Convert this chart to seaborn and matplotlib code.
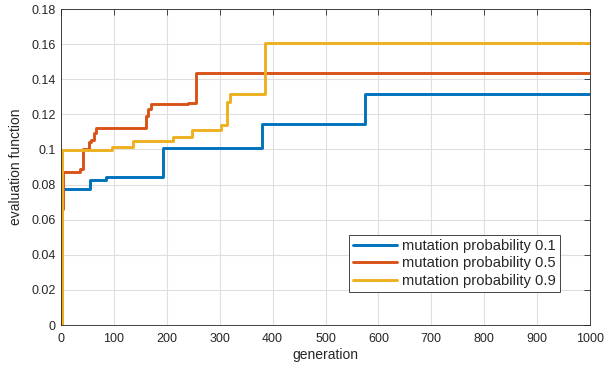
import matplotlib
matplotlib.use("Agg")
import matplotlib.pyplot as plt
import seaborn as sns
import pandas as pd
import numpy as np

# Data
gen_01 = [0, 1, 55, 86, 193, 380, 575, 1000]
val_01 = [0, 0.0773, 0.0826, 0.0843, 0.1011, 0.1143, 0.1314, 0.1314]

gen_05 = [0, 1, 4, 35, 42, 52, 56, 62, 67, 160, 164, 171, 241, 255, 1000]
val_05 = [0, 0.066, 0.0870, 0.0890, 0.1001, 0.1044, 0.1054, 0.1096, 0.1120,
          0.1190, 0.1230, 0.1257, 0.1266, 0.1434, 0.1434]

gen_09 = [0, 1, 96, 137, 211, 247, 302, 314, 319, 386, 1000]
val_09 = [0, 0.0995, 0.1012, 0.1048, 0.1069, 0.1110, 0.1139, 0.1270, 0.1314,
          0.1608, 0.1608]

labels = ["mutation probability 0.1", "mutation probability 0.5",
          "mutation probability 0.9"]
colors = ["#0072BD", "#D95319", "#EDB120"]

xticks = list(range(0, 1001, 100))
yticks = [0, 0.02, 0.04, 0.06, 0.08, 0.1, 0.12, 0.14, 0.16, 0.18]
ytick_labels = ["0", "0.02", "0.04", "0.06", "0.08", "0.1", "0.12", "0.14",
                "0.16", "0.18"]

frames = []
for g, v, lab in zip([gen_01, gen_05, gen_09], [val_01, val_05, val_09], labels):
    frames.append(pd.DataFrame({"generation": g, "value": v, "series": lab}))
df = pd.concat(frames, ignore_index=True)

sns.set_style("white")
plt.rcParams["font.family"] = ["Liberation Sans", "DejaVu Sans"]

fig = plt.figure(figsize=(6.08, 3.73), dpi=100)
W, H = 608, 373
ax = fig.add_axes([61 / W, (H - 325) / H, (590 - 61) / W, (325 - 9) / H])

sns.lineplot(data=df, x="generation", y="value", hue="series",
             palette=colors, hue_order=labels, drawstyle="steps-post",
             linewidth=2.1, estimator=None, sort=True, ax=ax)

ax.set_xlim(0, 1000)
ax.set_ylim(0, 0.18)
ax.set_xticks(xticks)
ax.set_xticklabels([str(t) for t in xticks])
ax.set_yticks(yticks)
ax.set_yticklabels(ytick_labels)
ax.grid(True, color="#dfdfdf", linewidth=0.8)
ax.set_axisbelow(True)
for s in ax.spines.values():
    s.set_visible(True)
    s.set_color("#262626")
    s.set_linewidth(0.6)
ax.tick_params(direction="in", length=4, width=0.6, colors="#262626",
               labelsize=9, top=True, right=True)
ax.tick_params(axis="x", pad=6)
ax.tick_params(axis="y", pad=4)
ax.set_xlabel("generation", fontsize=10, color="#262626", labelpad=2)
ax.set_ylabel("evaluation function", fontsize=10, color="#262626", labelpad=6)

leg = ax.legend(loc="lower right", bbox_to_anchor=(0.943, 0.104),
                fontsize=10.6, frameon=True, fancybox=False,
                edgecolor="#262626", framealpha=1, borderpad=0.3,
                labelspacing=0.22, handlelength=3.0, handletextpad=0.3,
                borderaxespad=0)
leg.get_frame().set_linewidth(0.6)

fig.savefig("out.png", dpi=100)
